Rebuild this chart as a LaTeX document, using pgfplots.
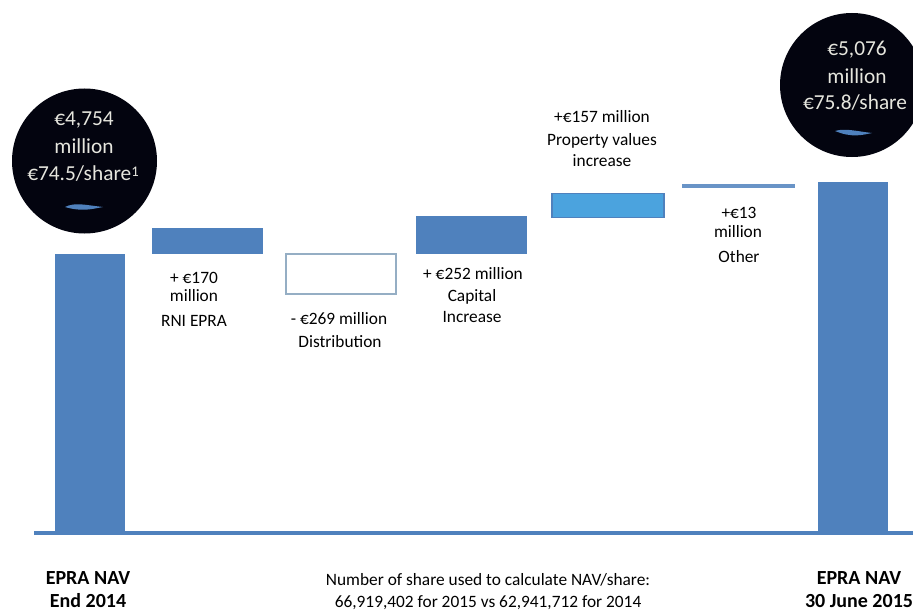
\documentclass[border=0pt]{standalone}
\usepackage{pgfplots}
\pgfplotsset{compat=1.18}
\usepackage{fontspec}
\setmainfont{Carlito}
\definecolor{barblue}{HTML}{4F81BD}
\definecolor{skyblue}{HTML}{4BA3DE}
\definecolor{paleedge}{HTML}{95AEC4}
\definecolor{disc}{HTML}{03040F}
\definecolor{disctext}{HTML}{E6E6DE}
\newcommand{\lab}[4]{\node[font=#4,text=black,anchor=center,inner sep=0pt] at (#1,612-#2) {#3};}
\newcommand{\dlab}[3]{\node[font=\fontsize{16}{16}\selectfont,text=disctext,anchor=center,inner sep=0pt] at (#1,612-#2) {#3};}
\pgfplotsset{canvas/.style={
  width=684.75pt,height=459pt,scale only axis,at={(0pt,0pt)},anchor=south west,
  xmin=0,xmax=913,hide axis,clip=false}}
\begin{document}
\begin{tikzpicture}[x=0.75pt,y=0.75pt]
\useasboundingbox (0,0) rectangle (913,612);
\clip (0,0) rectangle (913,612);

% Opening and closing NAV, on their own truncated scale
\begin{axis}[canvas,ymin=3153,ymax=5890]
\addplot[fill=barblue,draw=none] coordinates {(55,3506)(125,3506)(125,4754)(55,4754)} --cycle;
\addplot[fill=barblue,draw=none] coordinates {(818,3506)(888,3506)(888,5076)(818,5076)} --cycle;
\addplot[draw=barblue,line width=3pt] coordinates {(34,3506)(913,3506)};
\end{axis}

% Movements in NAV, in EUR million relative to the end-2014 level
\begin{axis}[canvas,ymin=-2387,ymax=1693]
\addplot[fill=barblue,draw=none] coordinates {(152,0)(263,0)(263,170)(152,170)} --cycle;
\addplot[fill=white,draw=paleedge,line width=1.5pt] coordinates {(286,-269)(396,-269)(396,0)(286,0)} --cycle;
\addplot[fill=barblue,draw=none] coordinates {(416,0)(527,0)(527,252)(416,252)} --cycle;
\addplot[fill=skyblue,draw=barblue,line width=1pt] coordinates {(552,245)(664,245)(664,402)(552,402)} --cycle;
\addplot[fill=barblue,draw=barblue!85,line width=1pt] coordinates {(683,447)(794,447)(794,460)(683,460)} --cycle;
\end{axis}

% Discs carrying the headline figures
\fill[disc] (84.5,612-161) circle (72.5);
\fill[disc] (852,612-85) circle (72);
\fill[barblue] (65,612-207) .. controls (75,612-202) and (85,612-205) .. (103,612-207)
  .. controls (92,612-209) and (82,612-212) .. cycle;
\fill[barblue] (835,612-131) .. controls (845,612-128) and (855,612-131) .. (872,612-133)
  .. controls (862,612-135) and (852,612-138) .. cycle;
\dlab{84}{120}{€4,754}
\dlab{84}{146}{million}
\dlab{83}{174}{€74.5/share\raisebox{0.45ex}{\fontsize{11}{11}\selectfont 1}}
\dlab{857}{50}{€5,076}
\dlab{857}{76}{million}
\dlab{855}{103}{€75.8/share}

% Movement captions
\def\capfont{\fontsize{13}{13}\selectfont}
\lab{194}{278}{+ €170}{\capfont}
\lab{194}{296}{million}{\capfont}
\lab{194}{321}{RNI EPRA}{\capfont}
\lab{339}{319}{- €269 million}{\capfont}
\lab{340}{342}{Distribution}{\capfont}
\lab{473}{274}{+ €252 million}{\capfont}
\lab{472}{297}{Capital}{\capfont}
\lab{472}{317}{Increase}{\capfont}
\lab{602}{117}{+€157 million}{\capfont}
\lab{602}{141}{Property values}{\capfont}
\lab{602}{161}{increase}{\capfont}
\lab{739}{213}{+€13}{\capfont}
\lab{738}{232}{million}{\capfont}
\lab{739}{257}{Other}{\capfont}

% Column headings and the share-count note along the foot
\def\headfont{\fontsize{15}{15}\selectfont\bfseries}
\lab{88}{578}{EPRA NAV}{\headfont}
\lab{88}{601}{End 2014}{\headfont}
\lab{859}{578}{EPRA NAV}{\headfont}
\lab{859}{601}{30 June 2015}{\headfont}
\def\notefont{\fontsize{13}{13}\selectfont}
\lab{488}{580}{Number of share used to calculate NAV/share:}{\notefont}
\lab{488}{603}{66,919,402 for 2015 vs 62,941,712 for 2014}{\notefont}
\end{tikzpicture}
\end{document}
